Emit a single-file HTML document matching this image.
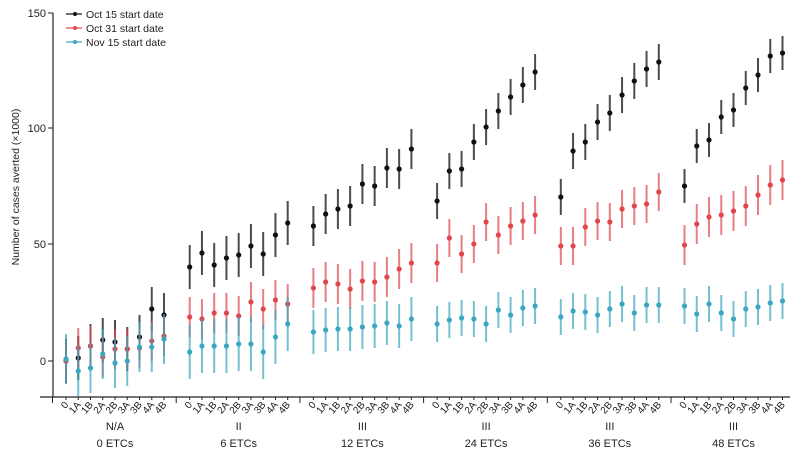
<!DOCTYPE html>
<html><head><meta charset="utf-8"><style>
html,body{margin:0;padding:0;background:#fff;width:800px;height:457px;overflow:hidden}
svg{display:block;font-family:"Liberation Sans",sans-serif}
</style></head><body>
<svg id="s" width="800" height="457" xmlns="http://www.w3.org/2000/svg">
<line x1="53" y1="13" x2="53" y2="397" stroke="#222" stroke-width="1.2"/>
<line x1="40" y1="397" x2="790" y2="397" stroke="#222" stroke-width="1.2"/>
<g font-size="11" fill="#222" text-anchor="end">
<line x1="48" y1="13" x2="53" y2="13" stroke="#222"/><text x="46" y="17">150</text>
<line x1="48" y1="128" x2="53" y2="128" stroke="#222"/><text x="46" y="132">100</text>
<line x1="48" y1="244" x2="53" y2="244" stroke="#222"/><text x="46" y="248">50</text>
<line x1="48" y1="361" x2="53" y2="361" stroke="#222"/><text x="46" y="365">0</text>
</g>
<text transform="translate(19,187) rotate(-90)" font-size="10.5" fill="#222" text-anchor="middle">Number of cases averted (×1000)</text>
<g font-size="10.5" fill="#222">
<line x1="66" y1="14" x2="82" y2="14" stroke="#111" stroke-width="1.2"/><circle cx="75" cy="14" r="2" fill="#111"/><text x="86" y="18">Oct 15 start date</text>
<line x1="66" y1="28" x2="82" y2="28" stroke="#e0474c" stroke-width="1.2"/><circle cx="75" cy="28" r="2" fill="#e0474c"/><text x="86" y="32">Oct 31 start date</text>
<line x1="66" y1="42" x2="82" y2="42" stroke="#3aa6c0" stroke-width="1.2"/><circle cx="75" cy="42" r="2" fill="#3aa6c0"/><text x="86" y="46">Nov 15 start date</text>
</g>
<g id="d"></g>
</svg>
<script>
var B=[[361,358,346,340,342,349,337,309,315],[267,253,265,258,255,246,254,235,223],[226,214,209,206,184,186,168,169,149],[201,171,169,142,127,111,97,85,72],[197,151,142,122,113,95,81,69,62],[186,146,140,117,110,88,75,56,53]];
var R=[[361,348,346,357,349,349,348,341,336],[317,319,313,313,316,302,309,300,304],[288,282,284,289,281,282,277,269,263],[263,238,254,244,222,235,226,221,215],[246,246,227,221,222,209,206,204,192],[245,224,217,215,211,206,195,185,180]];
var C=[[359,371,368,354,363,361,347,347,339],[352,346,346,346,344,344,352,337,324],[332,330,329,329,327,326,323,326,319],[324,320,318,319,324,310,315,308,306],[317,311,312,315,309,304,313,305,305],[306,314,304,313,319,309,307,303,301]];
var E=[[22,20,25],[22,20,27],[20,20,22],[18,19,18],[18,19,18],[17,20,18]];
var labs=["0","1A","1B","2A","2B","3A","3B","4A","4B"];
var gl=[["N/A","0 ETCs"],["II","6 ETCs"],["III","12 ETCs"],["III","24 ETCs"],["III","36 ETCs"],["III","48 ETCs"]];
var h="";
function ser(D,ei,col,op){for(var g=0;g<6;g++)for(var i=0;i<9;i++){var x=66+g*123.7+i*12.25,y=D[g][i],e=E[g][ei];
h+='<line x1="'+x+'" y1="'+(y-e)+'" x2="'+x+'" y2="'+(y+e)+'" stroke="'+col+'" stroke-width="2" opacity="'+op+'"/>';
h+='<circle cx="'+x+'" cy="'+y+'" r="2.6" fill="'+col+'"/>';}}
ser(B,0,"#111",0.75);ser(R,1,"#e0474c",0.7);ser(C,2,"#3aa6c0",0.7);
for(var g=0;g<6;g++){var x0=66+g*123.7;
for(var i=0;i<9;i++){var x=x0+i*12.25;h+='<line x1="'+x+'" y1="397" x2="'+x+'" y2="400" stroke="#222"/>';
h+='<text transform="translate('+(x+3)+',405) rotate(-50)" font-size="10" fill="#222" text-anchor="end">'+labs[i]+'</text>';}
var sx=x0-13.5;h+='<line x1="'+sx+'" y1="397" x2="'+sx+'" y2="403" stroke="#222"/>';
var cx=x0+49;h+='<text x="'+cx+'" y="430" font-size="11" fill="#222" text-anchor="middle">'+gl[g][0]+'</text>';
h+='<text x="'+cx+'" y="447" font-size="11" fill="#222" text-anchor="middle">'+gl[g][1]+'</text>';}
document.getElementById("d").innerHTML=h;
</script>
</body></html>
